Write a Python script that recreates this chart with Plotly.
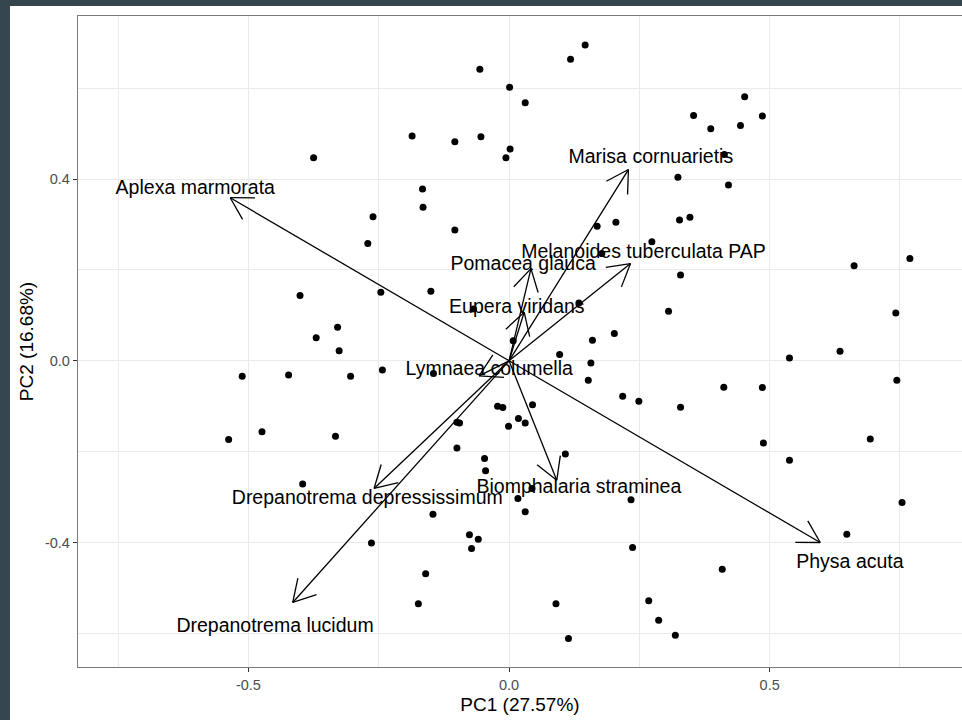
import math
import plotly.graph_objects as go

# ---------------- data ----------------
pc1_scores = [0.146, 0.118, -0.056, 0.001, 0.031, -0.186, -0.104, -0.054, 0.002, -0.006,
              -0.375, -0.166, -0.165, -0.261, -0.104, 0.169, 0.205, 0.354, 0.387, 0.452,
              0.444, 0.486, 0.413, 0.324, 0.421, 0.327, 0.347, 0.274, 0.178, 0.329,
              0.306, 0.134, 0.202, 0.160, 0.008, 0.097, 0.157, 0.152, 0.218, 0.249,
              0.329, 0.412, 0.486, 0.488, 0.538, 0.635, 0.662, 0.769, 0.742, 0.744,
              0.693, 0.538, -0.271, -0.246, -0.150, -0.068, -0.401, -0.329, -0.326, -0.370,
              -0.304, -0.243, -0.145, -0.512, -0.423, -0.538, -0.474, -0.333, -0.100, -0.095,
              -0.022, -0.012, 0.045, 0.018, 0.031, -0.001, -0.100, -0.047, -0.045, 0.108,
              -0.396, 0.017, 0.031, 0.044, 0.234, 0.237, -0.146, -0.264, -0.076, -0.059,
              -0.072, -0.160, -0.174, 0.090, 0.114, 0.754, 0.648, 0.409, 0.268, 0.287,
              0.319]
pc2_scores = [0.695, 0.664, 0.642, 0.602, 0.568, 0.495, 0.482, 0.493, 0.466, 0.447,
              0.447, 0.378, 0.338, 0.317, 0.288, 0.296, 0.305, 0.540, 0.511, 0.581,
              0.518, 0.539, 0.454, 0.404, 0.387, 0.310, 0.316, 0.262, 0.236, 0.189,
              0.109, 0.127, 0.060, 0.045, 0.044, 0.014, -0.005, -0.043, -0.078, -0.089,
              -0.102, -0.058, -0.059, -0.181, 0.006, 0.021, 0.209, 0.225, 0.105, -0.043,
              -0.172, -0.219, 0.258, 0.151, 0.153, 0.114, 0.144, 0.074, 0.022, 0.051,
              -0.034, -0.020, -0.028, -0.034, -0.031, -0.173, -0.156, -0.166, -0.135, -0.137,
              -0.100, -0.103, -0.097, -0.127, -0.137, -0.144, -0.192, -0.215, -0.242, -0.205,
              -0.271, -0.303, -0.332, -0.281, -0.306, -0.411, -0.338, -0.401, -0.383, -0.393,
              -0.413, -0.469, -0.535, -0.535, -0.611, -0.312, -0.382, -0.459, -0.528, -0.571,
              -0.604]

species = ["Aplexa marmorata", "Marisa cornuarietis", "Melanoides tuberculata PAP",
           "Pomacea glauca", "Eupera viridans", "Lymnaea columella",
           "Biomphalaria straminea", "Drepanotrema depressissimum",
           "Drepanotrema lucidum", "Physa acuta"]
loading_pc1 = [-0.535, 0.229, 0.233, 0.042, 0.029, -0.0575, 0.0915, -0.259, -0.415, 0.597]
loading_pc2 = [0.359, 0.421, 0.214, 0.203, 0.107, -0.033, -0.263, -0.281, -0.532, -0.400]
label_pc1 = [-0.602, 0.272, 0.258, 0.027, 0.015, -0.038, 0.134, -0.272, -0.449, 0.654]
label_pc2 = [0.378, 0.446, 0.237, 0.211, 0.115, -0.020, -0.281, -0.304, -0.586, -0.445]

x_tickvals = [-0.5, 0.0, 0.5]
x_ticktext = ["-0.5", "0.0", "0.5"]
x_minorvals = [-0.75, -0.25, 0.25, 0.75]
y_tickvals = [-0.4, 0.0, 0.4]
y_ticktext = ["-0.4", "0.0", "0.4"]
y_minorvals = [-0.6, -0.2, 0.2, 0.6]

x_title = "PC1 (27.57%)"
y_title = "PC2 (16.68%)"

# ---------------- layout geometry ----------------
W, H = 962, 720
ML, MR, MT, MB = 78, 0, 16, 53
x_range = [-0.827, 0.869]
y_range = [-0.674, 0.759]
plot_w = W - ML - MR
plot_h = H - MT - MB
px_per_x = plot_w / (x_range[1] - x_range[0])
px_per_y = plot_h / (y_range[1] - y_range[0])

# arrows: shaft + open head (computed in pixel space from the loadings)
head_len = 25.0
head_ang = math.radians(30)
ax, ay = [], []
for lx, ly in zip(loading_pc1, loading_pc2):
    ax += [0.0, lx, None]
    ay += [0.0, ly, None]
    ang = math.atan2(ly * px_per_y, lx * px_per_x) + math.pi
    for s in (-1, 1):
        a = ang + s * head_ang
        ax += [lx, lx + head_len * math.cos(a) / px_per_x, None]
        ay += [ly, ly + head_len * math.sin(a) / px_per_y, None]

fig = go.Figure()
fig.add_trace(go.Scatter(
    x=pc1_scores, y=pc2_scores, mode="markers",
    marker=dict(color="black", size=7, line=dict(width=0)),
    hoverinfo="skip", showlegend=False))
fig.add_trace(go.Scatter(
    x=ax, y=ay, mode="lines",
    line=dict(color="black", width=1.3),
    hoverinfo="skip", showlegend=False))
fig.add_trace(go.Scatter(
    x=label_pc1, y=label_pc2, mode="text", text=species,
    textposition="middle center",
    textfont=dict(family="Liberation Sans, Arial, sans-serif", size=19.5, color="black"),
    hoverinfo="skip", showlegend=False))

bg_dark = "#36464f"
# white page area (dark strip at left and top)
x0p = (10 - ML) / plot_w
y1p = 1 + (MT - 6) / plot_h
y0p = -(MB + 5) / plot_h
fig.add_shape(type="rect", xref="paper", yref="paper",
              x0=x0p, x1=1.05, y0=y0p, y1=y1p,
              fillcolor="white", line=dict(width=0), layer="below")

axis_common = dict(
    showgrid=True, gridcolor="#ebebeb", gridwidth=1.1,
    zeroline=False, showline=True, linecolor="#7a7a7a", linewidth=1.3,
    ticks="outside", ticklen=4, tickwidth=1.2, tickcolor="#333333",
    tickfont=dict(family="Liberation Sans, Arial, sans-serif", size=14.5, color="#4d4d4d"),
    title_font=dict(family="Liberation Sans, Arial, sans-serif", size=19, color="black"),
    automargin=False,
)

fig.update_layout(
    width=W, height=H, autosize=False,
    margin=dict(l=ML, r=MR, t=MT, b=MB, pad=0),
    paper_bgcolor=bg_dark, plot_bgcolor="white",
    xaxis=dict(range=x_range, tickmode="array", tickvals=x_tickvals, ticktext=x_ticktext,
               minor=dict(tickmode="array", tickvals=x_minorvals, showgrid=True,
                          gridcolor="#ebebeb", gridwidth=0.8, ticks=""),
               mirror=True, title=dict(text=x_title, standoff=6), **axis_common),
    yaxis=dict(range=y_range, tickmode="array", tickvals=y_tickvals, ticktext=y_ticktext,
               minor=dict(tickmode="array", tickvals=y_minorvals, showgrid=True,
                          gridcolor="#ebebeb", gridwidth=0.8, ticks=""),
               mirror=False, title=dict(text=y_title, standoff=6), **axis_common),
    showlegend=False,
)

fig.write_html(
    "out.html",
    config={"displayModeBar": False},
    post_script="document.body.style.margin='0';document.body.style.overflow='hidden';",
)
